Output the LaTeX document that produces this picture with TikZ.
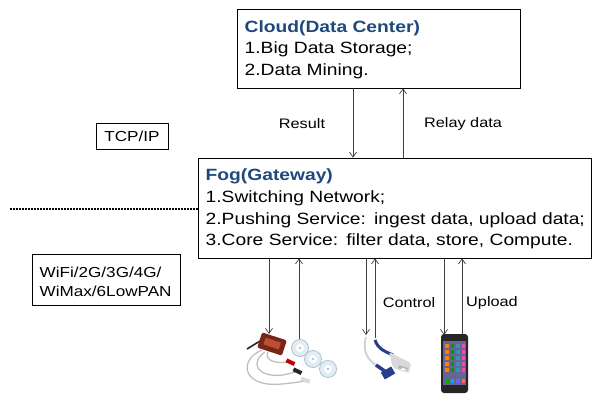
\documentclass[tikz,border=0pt]{standalone}
\usepackage{fontspec}
\setmainfont{Liberation Sans}[FakeStretch=1.18]
\usetikzlibrary{arrows.meta,calc}
\definecolor{titleblue}{RGB}{31,73,125}
\definecolor{ecgred}{RGB}{120,38,26}
\definecolor{ecgorange}{RGB}{190,80,50}
\definecolor{probeblue}{RGB}{40,60,140}
\definecolor{padfill}{RGB}{226,236,242}
\definecolor{padring}{RGB}{170,195,210}
\begin{document}
\begin{tikzpicture}[x=1pt,y=-1pt,
  box/.style={draw=black, line width=0.7pt, fill=white, inner sep=0pt},
  big/.style={font=\fontsize{16.3}{21.5}\selectfont, inner sep=0pt, anchor=base west},
  ttl/.style={big, text=titleblue, font=\fontsize{16.3}{21.5}\selectfont\bfseries},
  lab/.style={font=\fontsize{13.8}{16}\selectfont},
  sml/.style={font=\fontsize{14.5}{16}\selectfont, inner sep=0pt, anchor=base west},
  arr/.style={draw=black!75, line width=0.7pt, -{Straight Barb[length=5pt,width=7pt]}}]
\useasboundingbox (0,0) rectangle (597,396);
\fill[white] (0,0) rectangle (597,396);

% boxes
\node[box, minimum width=283pt, minimum height=79pt] (cloud) at (378.5,48.5) {};
\node[ttl] (cl1) at (244.5,32.7) {Cloud(Data Center)};
\node[big] (cl2) at (244.5,54) {1.Big Data Storage;};
\node[big] (cl3) at (244.5,75) {2.Data Mining.};

\node[box, minimum width=393pt, minimum height=100pt] (fog) at (394.5,208) {};
\node[ttl] (fg1) at (205.5,180) {Fog(Gateway)};
\node[big] (fg2) at (205.5,202.3) {1.Switching Network;};
\node[big] (fg3) at (205.5,224) {2.Pushing Service:\hspace{0.5em}ingest data, upload data;};
\node[big] (fg4) at (205.5,245.5) {3.Core Service:\hspace{0.5em}filter data, store, Compute.};

\node[box, minimum width=72pt, minimum height=26pt, font=\fontsize{14.5}{16}\selectfont] (tcp) at (132,136) {TCP/IP};
\node[box, minimum width=148pt, minimum height=51pt] (wifi) at (106.5,279.5) {};
\node[sml] (wf1) at (39.5,277.3) {WiFi/2G/3G/4G/};
\node[sml] (wf2) at (39.5,296.7) {WiMax/6LowPAN};

% dotted separator
\coordinate (dotstart) at (10,209);
\draw[line width=1.6pt, dash pattern=on 1.6pt off 1.4pt] (dotstart) -- (dotstart -| fog.west);

% cloud <-> fog
\coordinate (xres) at (353,0);
\coordinate (xrel) at (403,0);
\draw[arr] (cloud.south -| xres) -- (fog.north -| xres);
\draw[arr] (fog.north -| xrel) -- (cloud.south -| xrel);
\node[lab] (result) at (302,124) {Result};
\node[lab] (relay) at (463,124) {Relay data};

% device end points
\coordinate (ecgin) at (269,334);
\coordinate (ecgout) at (299,340);
\coordinate (oxin) at (366,335);
\coordinate (oxout) at (375,338);
\coordinate (phin) at (444,335);
\coordinate (phout) at (462,335);
\draw[arr] (fog.south -| ecgin) -- (ecgin);
\draw[arr] (ecgout) -- (fog.south -| ecgout);
\draw[arr] (fog.south -| oxin) -- (oxin);
\draw[arr] (oxout) -- (fog.south -| oxout);
\draw[arr] (fog.south -| phin) -- (phin);
\draw[arr] (phout) -- (fog.south -| phout);
\node[lab] (control) at (409,303) {Control};
\node[lab] (upload) at (492,303) {Upload};

% ---- ECG device ----
\draw[gray!50, line width=1.3pt] (262,350) .. controls (238,360) and (242,388) .. (282,384) .. controls (292,383) .. (305,381);
\draw[gray!50, line width=1.3pt] (265,352) .. controls (250,362) and (256,378) .. (283,375) -- (296,372);
\draw[gray!50, line width=1.3pt] (268,352) .. controls (264,360) and (275,364) .. (288,362);
\draw[black!85, line width=1.6pt] (260,341) -- (247,349);
\fill[ecgred, rounded corners=1.5pt, rotate around={-18:(272,344)}] (259,336) rectangle (285,352);
\fill[ecgorange, rotate around={-18:(272,344)}] (264,340) rectangle (280,347);
\fill[red!75!black, rotate around={-25:(290,362)}] (286,360) rectangle (295,364);
\fill[black!85, rotate around={-25:(297,371)}] (293,369) rectangle (302,373);
\fill[gray!30, rotate around={-20:(305,380)}] (301,378) rectangle (310,382);
\foreach \cx/\cy in {300/348, 313/359, 328/369}{
  \fill[padfill] (\cx,\cy) circle (8.5);
  \draw[padring, line width=0.8pt] (\cx,\cy) circle (8.5);
  \fill[white] (\cx,\cy) circle (4);
  \fill[padring] (\cx,\cy) circle (1.3);
}

% ---- pulse oximeter ----
\draw[gray!35, line width=2pt] (366,337) .. controls (362,352) and (368,360) .. (377,366);
\draw[probeblue, line width=3.5pt] (376,365) -- (386,372);
\fill[probeblue, rotate around={30:(388,373)}] (382,369) rectangle (394,377);
\draw[probeblue, line width=3pt] (375,340) .. controls (378,349) and (384,351) .. (393,355);
\fill[gray!30, rounded corners=2pt] (389,352) -- (411,363) -- (409,373) -- (393,368) -- cycle;
\fill[gray!55] (399,365) -- (408,368) -- (407,371) -- (398,368) -- cycle;
\fill[white] (402,368) -- (406,369) -- (405,370.5) -- (401,369.5) -- cycle;

% ---- phone ----
\fill[black!85, rounded corners=3pt] (441,334) rectangle (468,393);
\fill[black!70!blue!60] (443,341) rectangle (466,385);
\foreach \row/\ry in {0/344,1/350,2/356,3/362,4/368}{
  \foreach \col/\cx/\cc in {0/445/orange,1/450.5/green!60!black,2/456/cyan!70!black,3/461.5/magenta!70}{
    \fill[\cc] (\cx,\ry) rectangle ++(3.5,3.5);
  }
}
\foreach \cx/\cc in {445/green!70!black,450.5/cyan,456/blue!60,461.5/red!60}{
  \fill[\cc] (\cx,379) rectangle ++(3.5,3.5);
}
\end{tikzpicture}
\end{document}
